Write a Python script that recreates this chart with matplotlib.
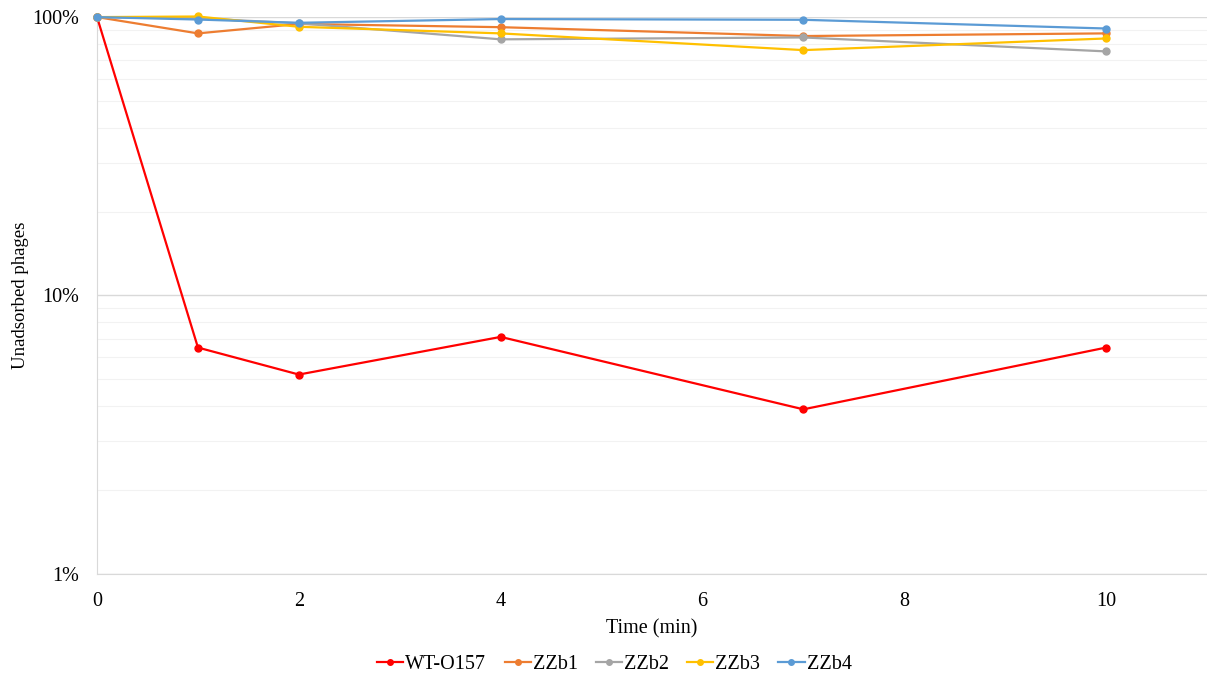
import numpy as np
import matplotlib
matplotlib.use('Agg')
import matplotlib.pyplot as plt
from matplotlib.ticker import FixedLocator, FuncFormatter, NullFormatter

# time points (min) and unadsorbed phages (%)
time_min = [0, 1, 2, 4, 7, 10]
wt_o157 = [100, 6.5, 5.2, 7.1, 3.9, 6.5]
zzb1 = [100, 87.4, 94.5, 92.0, 85.5, 87.4]
zzb2 = [100, 99.0, 95.0, 83.2, 84.5, 75.3]
zzb3 = [100, 100.5, 92.3, 87.4, 76.1, 83.8]
zzb4 = [100, 98.0, 95.4, 98.4, 97.8, 91.0]

series_names = ['WT-O157', 'ZZb1', 'ZZb2', 'ZZb3', 'ZZb4']
series_values = [wt_o157, zzb1, zzb2, zzb3, zzb4]
colors = ['#FF0000', '#ED7D31', '#A5A5A5', '#FFC000', '#5B9BD5']

plt.rcParams['font.family'] = ['Liberation Serif', 'DejaVu Serif']

fig = plt.figure(figsize=(12.07, 6.84), dpi=100)
ax = fig.add_axes([0.0804, 0.161, 0.9196, 0.814])

for name, vals, c in zip(series_names, series_values, colors):
	ax.plot(time_min, np.array(vals) / 100.0, color=c, marker='o', markersize=5,
		linewidth=1.6, label=name, zorder=3, clip_on=False)

ax.set_yscale('log')
ax.set_ylim(0.01, 1.0)
ax.set_xlim(0, 11)
ax.set_xticks([0, 2, 4, 6, 8, 10])
ax.yaxis.set_major_locator(FixedLocator([0.01, 0.1, 1.0]))
ax.yaxis.set_major_formatter(FuncFormatter(lambda v, p: '%d%%' % round(v * 100)))
minor = [m * d for d in (0.01, 0.1) for m in range(2, 10)]
ax.yaxis.set_minor_locator(FixedLocator(minor))
ax.yaxis.set_minor_formatter(NullFormatter())

ax.grid(True, which='major', axis='y', color='#D9D9D9', linewidth=1.0, zorder=0)
ax.grid(True, which='minor', axis='y', color='#F2F2F2', linewidth=0.8, zorder=0)

for s in ['top', 'right']:
	ax.spines[s].set_visible(False)
for s in ['left', 'bottom']:
	ax.spines[s].set_color('#D9D9D9')

ax.tick_params(axis='both', which='both', length=0, labelsize=14.5)
ax.tick_params(axis='y', pad=13)
ax.tick_params(axis='x', pad=13)
ax.set_xlabel('Time (min)', fontsize=14.5)
ax.set_ylabel('Unadsorbed phages', fontsize=13.5)
ax.xaxis.set_label_coords(0.5, -0.081)
ax.yaxis.set_label_coords(-0.0615, 0.5)

fig.legend(loc='center', ncol=5, frameon=False, fontsize=14.5,
	bbox_to_anchor=(0.509, 0.028), handlelength=1.3, columnspacing=0.9,
	handletextpad=0.1, markerscale=0.8)

fig.savefig('out.png', dpi=100)
